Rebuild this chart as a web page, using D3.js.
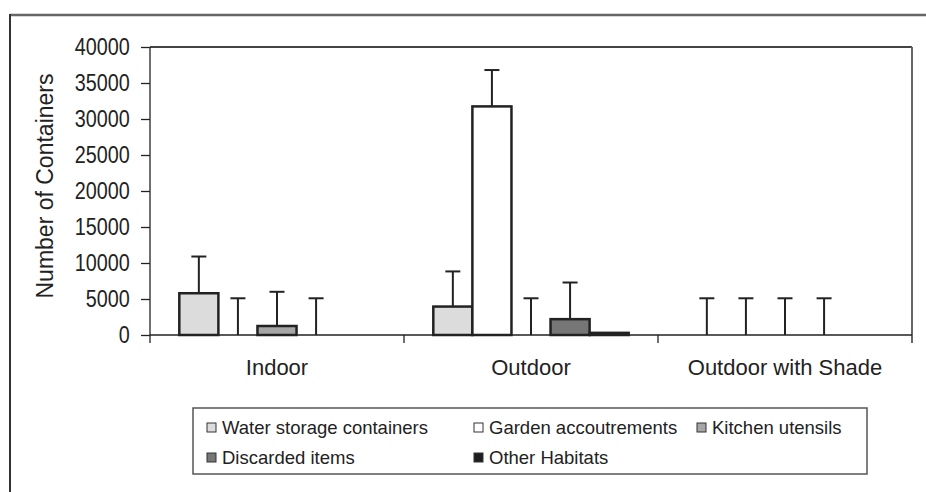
<!DOCTYPE html>
<html>
<head>
<meta charset="utf-8">
<script src="https://cdn.jsdelivr.net/npm/d3@7"></script>
<style>
  html, body { margin: 0; padding: 0; background: #fff; }
  svg { display: block; font-family: "Liberation Sans", Arial, sans-serif; }
</style>
</head>
<body>
<svg id="chart" width="926" height="492"></svg>
<script>
// ---- data ----
const categories = ["Indoor", "Outdoor", "Outdoor with Shade"];
const seriesNames = ["Water storage containers", "Garden accoutrements", "Kitchen utensils", "Discarded items", "Other Habitats"];
const waterStorage = [5800, 3950, 0];
const gardenAccoutrements = [0, 31750, 0];
const kitchenUtensils = [1250, 0, 0];
const discardedItems = [0, 2200, 0];
const otherHabitats = [0, 300, 0];
const waterStorageErr = [5100, 4880, 5100];
const gardenAccoutrementsErr = [5100, 5050, 5100];
const kitchenUtensilsErr = [4750, 5100, 5100];
const discardedItemsErr = [5100, 5090, 5100];
const otherHabitatsErr = [null, null, null];
const yTicks = [0, 5000, 10000, 15000, 20000, 25000, 30000, 35000, 40000];
const seriesColors = ["#dcdcdc", "#ffffff", "#a6a6a6", "#767676", "#1e1e1e"];

const seriesValues = [waterStorage, gardenAccoutrements, kitchenUtensils, discardedItems, otherHabitats];
const seriesErrors = [waterStorageErr, gardenAccoutrementsErr, kitchenUtensilsErr, discardedItemsErr, otherHabitatsErr];

const svg = d3.select("#chart");
const W = 926, H = 492;
const plot = { left: 150, right: 912, top: 47, bottom: 335 };

// outer frame
svg.append("line").attr("x1", 10).attr("x2", W).attr("y1", 15).attr("y2", 15)
  .attr("stroke", "#666").attr("stroke-width", 2.5);
svg.append("line").attr("x1", 10).attr("x2", 10).attr("y1", 14).attr("y2", H)
  .attr("stroke", "#333").attr("stroke-width", 2);

const x = d3.scaleBand().domain(categories).range([plot.left, plot.right]).padding(0);
const xs = d3.scaleBand().domain(seriesNames).range([0, x.bandwidth()]).paddingInner(0).paddingOuter(0.75);
const y = d3.scaleLinear().domain([0, 40000]).range([plot.bottom, plot.top]);

// plot frame (top + right)
svg.append("line").attr("x1", plot.left).attr("x2", plot.right).attr("y1", plot.top).attr("y2", plot.top)
  .attr("stroke", "#444").attr("stroke-width", 1.8);
svg.append("line").attr("x1", plot.right).attr("x2", plot.right).attr("y1", plot.top).attr("y2", plot.bottom + 8)
  .attr("stroke", "#666").attr("stroke-width", 2);

// y axis
const yAxis = d3.axisLeft(y).tickValues(yTicks).tickSize(9).tickPadding(0).tickFormat(d3.format("d"));
const gy = svg.append("g").attr("transform", `translate(${plot.left},0)`).call(yAxis);
gy.select(".domain").remove();
gy.selectAll(".tick line").attr("stroke", "#222").attr("stroke-width", 1.3);
gy.selectAll(".tick text").attr("font-size", 23).attr("fill", "#222")
  .attr("x", -23.5).attr("transform", "scale(0.86,1)")
  .attr("font-family", "'Liberation Sans', Arial, sans-serif");
svg.append("line").attr("x1", plot.left).attr("x2", plot.left).attr("y1", plot.top).attr("y2", plot.bottom + 8)
  .attr("stroke", "#222").attr("stroke-width", 1.3);

// x axis
const gx = svg.append("g").attr("transform", `translate(0,${plot.bottom})`);
gx.append("line").attr("x1", plot.left).attr("x2", plot.right).attr("stroke", "#222").attr("stroke-width", 1.3);
const boundaries = categories.map(c => x(c)).concat([x(categories[categories.length - 1]) + x.bandwidth()]);
gx.selectAll("line.btick").data(boundaries.slice(1, -1)).join("line").attr("class", "btick")
  .attr("x1", d => d).attr("x2", d => d).attr("y1", 0).attr("y2", 8)
  .attr("stroke", "#222").attr("stroke-width", 1.3);
gx.selectAll("text.cat").data(categories).join("text").attr("class", "cat")
  .attr("x", d => x(d) + x.bandwidth() / 2).attr("y", 40)
  .attr("text-anchor", "middle").attr("font-size", 22).attr("fill", "#222").text(d => d);

// y axis title
svg.append("text").attr("transform", "translate(53,186) rotate(-90)")
  .attr("text-anchor", "middle").attr("font-size", 23).attr("fill", "#222").text("Number of Containers");

// bars + error bars
const data = [];
categories.forEach((c, ci) => {
  seriesNames.forEach((s, si) => {
    data.push({ cat: c, s, si, v: seriesValues[si][ci], e: seriesErrors[si][ci] });
  });
});

const gBars = svg.append("g");
const errData = data.filter(d => d.e !== null);
const gErr = gBars.append("g");
errData.forEach(d => {
  const cx = x(d.cat) + xs(d.s) + xs.bandwidth() / 2;
  gErr.append("line").attr("x1", cx).attr("x2", cx).attr("y1", y(d.v)).attr("y2", y(d.v + d.e))
    .attr("stroke", "#222").attr("stroke-width", 2);
  gErr.append("line").attr("x1", cx - 7.5).attr("x2", cx + 7.5).attr("y1", y(d.v + d.e)).attr("y2", y(d.v + d.e))
    .attr("stroke", "#222").attr("stroke-width", 2);
});
gBars.selectAll("rect.bar").data(data.filter(d => d.v > 0)).join("rect").attr("class", "bar")
  .attr("x", d => x(d.cat) + xs(d.s))
  .attr("width", xs.bandwidth())
  .attr("y", d => y(d.v))
  .attr("height", d => y(0) - y(d.v))
  .attr("fill", d => seriesColors[d.si])
  .attr("stroke", "#222").attr("stroke-width", 2.5);

// legend
const lg = svg.append("g");
lg.append("rect").attr("x", 193).attr("y", 408).attr("width", 674).attr("height", 66)
  .attr("fill", "#fff").attr("stroke", "#555").attr("stroke-width", 1.5);
const legendPos = [[207, 428], [474, 428], [697, 428], [207, 458], [474, 458]];
seriesNames.forEach((s, i) => {
  const [lx, ly] = legendPos[i];
  lg.append("rect").attr("x", lx).attr("y", ly - 5).attr("width", 9).attr("height", 9)
    .attr("fill", seriesColors[i]).attr("stroke", "#333").attr("stroke-width", 1);
  lg.append("text").attr("x", lx + 15).attr("y", ly + 6).attr("font-size", 18.5).attr("fill", "#222").text(s);
});
</script>
</body>
</html>
